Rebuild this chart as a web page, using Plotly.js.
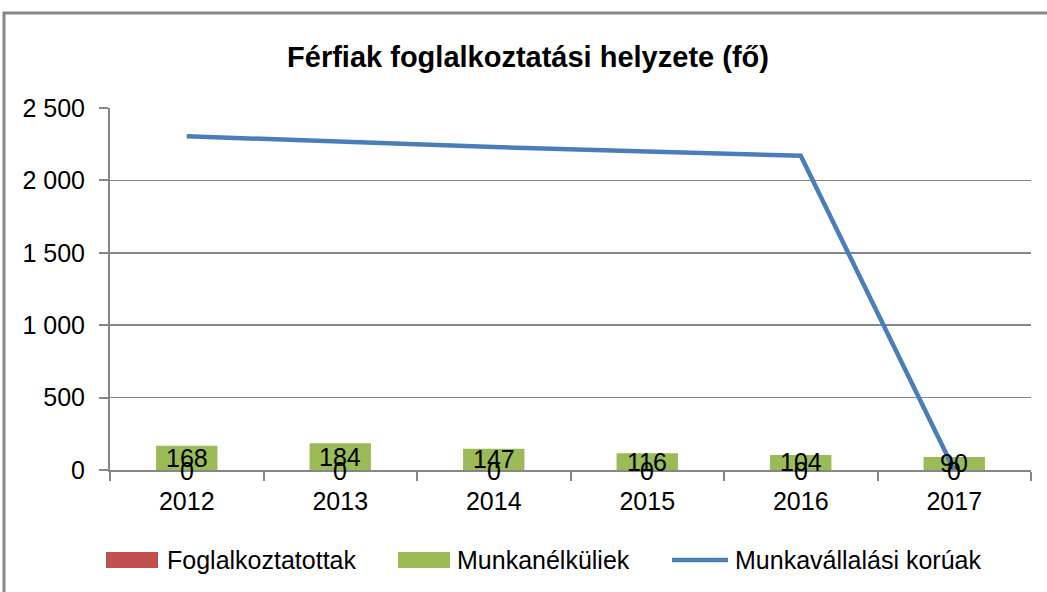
<!DOCTYPE html>
<html>
<head>
<meta charset="utf-8">
<script src="https://cdn.plot.ly/plotly-3.0.1.min.js"></script>
<style>html,body{margin:0;padding:0;background:#fff}#chart{width:1047px;height:592px}</style>
</head>
<body>
<div id="chart"></div>
<script>
const years = ['2012', '2013', '2014', '2015', '2016', '2017'];
const employed = [0, 0, 0, 0, 0, 0];
const unemployed = [168, 184, 147, 116, 104, 90];
const workingAge = [2305, 2265, 2230, 2200, 2170, 0];
const seriesNames = ['Foglalkoztatottak', 'Munkanélküliek', 'Munkavállalási korúak'];
const seriesColors = ['#C0504D', '#9BBB59', '#4A7EBB'];
const chartTitle = 'Férfiak foglalkoztatási helyzete (fő)';

const FONT = '"Liberation Sans", Arial, sans-serif';

// plot area in pixels
const PL = 110, PR = 1031, PT = 108, PB = 470;
const px = v => (v - PL) / (PR - PL);
const py = v => (PB - v) / (PB - PT);

const traces = [
  {type: 'bar', name: seriesNames[0], x: years, y: employed, marker: {color: seriesColors[0]}, width: 0.4, hoverinfo: 'skip', showlegend: false},
  {type: 'bar', name: seriesNames[1], x: years, y: unemployed, marker: {color: seriesColors[1]}, width: 0.4, hoverinfo: 'skip', showlegend: false},
  {type: 'scatter', mode: 'lines', name: seriesNames[2], x: years, y: workingAge,
   line: {color: seriesColors[2], width: 4.5}, hoverinfo: 'skip', showlegend: false}
];

const labelFont = {family: FONT, size: 25, color: '#000'};
const annotations = [];
years.forEach((yr, i) => {
  // category axis: annotation x uses category index
  annotations.push({x: i, y: unemployed[i] / 2, xref: 'x', yref: 'y', text: String(unemployed[i]),
    showarrow: false, xanchor: 'center', yanchor: 'middle', yshift: 0, font: labelFont});
  annotations.push({x: i, y: employed[i], xref: 'x', yref: 'y', text: String(employed[i]),
    showarrow: false, xanchor: 'center', yanchor: 'middle', yshift: -1, font: labelFont});
});

// custom legend
const legendItems = [
  {kind: 'bar', x0: 106, x1: 158, tx: 165},
  {kind: 'bar', x0: 398, x1: 450, tx: 455},
  {kind: 'line', x0: 672, x1: 728, tx: 733}
];
const LEG_Y = 560;
const shapes = [{type: 'rect', xref: 'paper', yref: 'paper',
  x0: px(4), x1: px(1060), y0: py(620), y1: py(13),
  line: {color: '#878787', width: 3}, fillcolor: 'rgba(0,0,0,0)', layer: 'below'}];
legendItems.forEach((it, i) => {
  if (it.kind === 'bar') {
    shapes.push({type: 'rect', xref: 'paper', yref: 'paper', x0: px(it.x0), x1: px(it.x1),
      y0: py(LEG_Y + 8), y1: py(LEG_Y - 8), line: {width: 0}, fillcolor: seriesColors[i]});
  } else {
    shapes.push({type: 'line', xref: 'paper', yref: 'paper', x0: px(it.x0), x1: px(it.x1),
      y0: py(LEG_Y), y1: py(LEG_Y), line: {color: seriesColors[i], width: 4.5}});
  }
  annotations.push({xref: 'paper', yref: 'paper', x: px(it.tx), y: py(LEG_Y), text: seriesNames[i],
    showarrow: false, xanchor: 'left', yanchor: 'middle', font: {family: FONT, size: 25, color: '#000'}});
});

const layout = {
  width: 1047, height: 592,
  margin: {l: PL, r: 1047 - PR, t: PT, b: 592 - PB},
  paper_bgcolor: '#fff', plot_bgcolor: '#fff',
  separators: ', ',
  font: {family: FONT, size: 24, color: '#000'},
  title: {text: '<b>' + chartTitle + '</b>', font: {family: FONT, size: 29, color: '#000'},
          x: 528 / 1047, xanchor: 'center', xref: 'container', y: 1 - 57 / 592, yanchor: 'middle'},
  barmode: 'overlay',
  showlegend: false,
  xaxis: {type: 'category', range: [-0.5, years.length - 0.5], showline: true, linecolor: '#868686', linewidth: 2,
          ticks: 'outside', tickson: 'boundaries', ticklen: 9, tickcolor: '#868686', tickwidth: 2,
          ticklabelstandoff: 8,
          showgrid: false, tickfont: {family: FONT, size: 25, color: '#000'}, fixedrange: true},
  yaxis: {range: [0, 2500], dtick: 500, tickformat: ',d', showline: true, linecolor: '#868686', linewidth: 2,
          ticks: 'outside', ticklen: 9, tickcolor: '#868686', tickwidth: 2,
          showgrid: true, gridcolor: '#868686', gridwidth: 1.5, zeroline: false,
          ticklabelstandoff: 9,
          tickfont: {family: FONT, size: 25, color: '#000'}, fixedrange: true},
  annotations: annotations,
  shapes: shapes
};

Plotly.newPlot('chart', traces, layout, {displayModeBar: false, staticPlot: true});
</script>
</body>
</html>
